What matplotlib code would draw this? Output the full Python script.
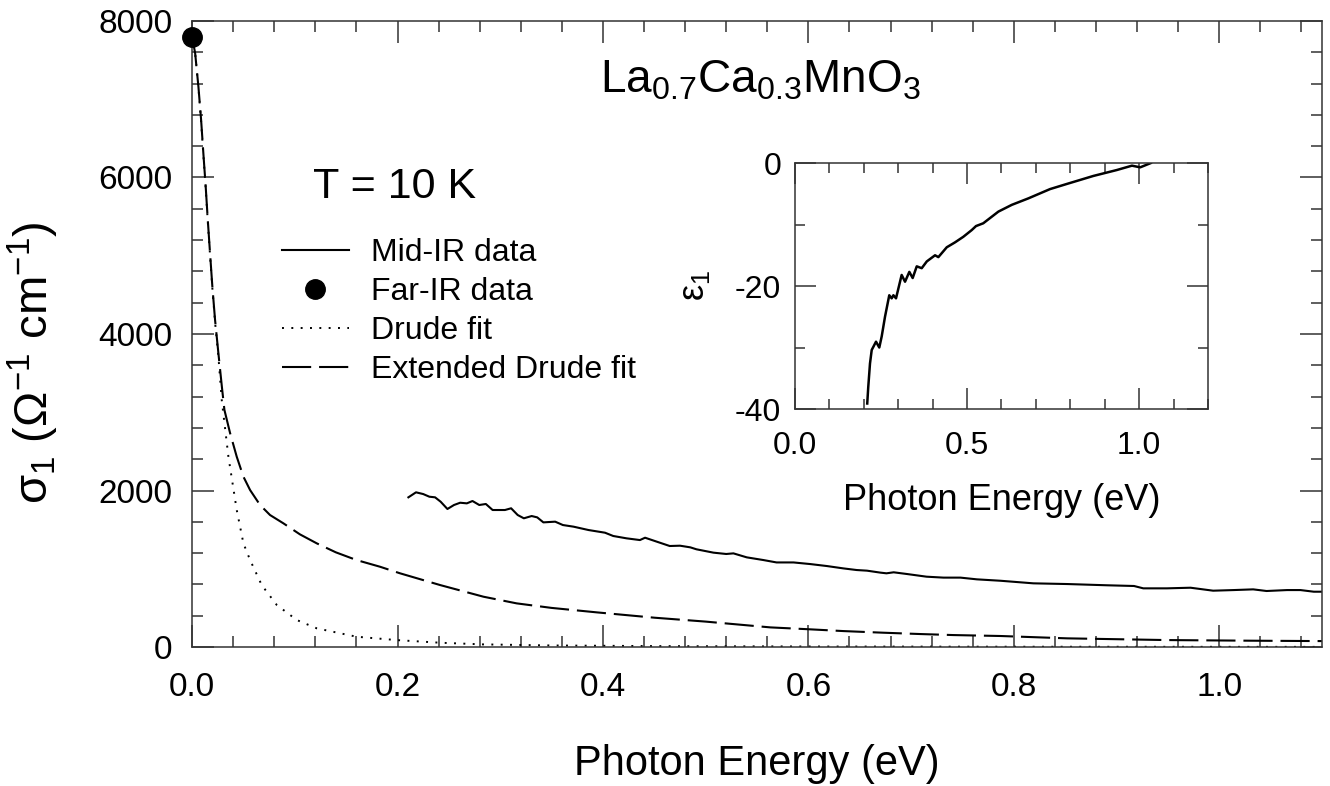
import matplotlib
matplotlib.use('Agg')
import matplotlib.pyplot as plt
from matplotlib.ticker import MultipleLocator

plt.rcParams['font.family'] = ['Liberation Sans', 'DejaVu Sans']
plt.rcParams['mathtext.fontset'] = 'custom'
plt.rcParams['mathtext.rm'] = 'Liberation Sans'
plt.rcParams['mathtext.it'] = 'Liberation Sans'
plt.rcParams['mathtext.sf'] = 'Liberation Sans'
plt.rcParams['axes.unicode_minus'] = False

# mid-IR optical conductivity
mid_x = [0.2106, 0.218, 0.225, 0.231, 0.2366, 0.242, 0.2486, 0.255, 0.261, 0.2675,
         0.273, 0.2796, 0.286, 0.2926, 0.3046, 0.3106, 0.317, 0.323, 0.3306, 0.336,
         0.342, 0.3535, 0.361, 0.3714, 0.386, 0.402, 0.410, 0.423, 0.436, 0.441,
         0.4525, 0.465, 0.475, 0.485, 0.491, 0.5076, 0.520, 0.527, 0.540, 0.556,
         0.569, 0.5855, 0.602, 0.618, 0.634, 0.647, 0.657, 0.670, 0.676, 0.683,
         0.696, 0.715, 0.7315, 0.748, 0.764, 0.787, 0.819, 0.852, 0.891, 0.917,
         0.926, 0.949, 0.972, 0.994, 1.014, 1.033, 1.046, 1.066, 1.079, 1.092, 1.10]
mid_y = [1913, 1977, 1955, 1921, 1913, 1857, 1764, 1815, 1844, 1836,
         1866, 1815, 1828, 1751, 1751, 1773, 1687, 1645, 1674, 1657,
         1593, 1602, 1559, 1538, 1495, 1461, 1419, 1389, 1367, 1397,
         1346, 1291, 1295, 1274, 1249, 1206, 1189, 1197, 1146, 1112,
         1081, 1081, 1060, 1035, 1005, 984, 976, 951, 942, 955,
         933, 899, 887, 887, 865, 847, 814, 805, 789, 780,
         750, 750, 758, 720, 728, 737, 716, 728, 728, 707, 707]

# far-IR point
far_x = [0.0]
far_y = [7800]

# Drude fit
drude_x = [0, 0.003, 0.0062, 0.0088, 0.011, 0.0133, 0.0153, 0.0175, 0.0198, 0.0224,
           0.0256, 0.0289, 0.0354, 0.0435, 0.050, 0.0565, 0.0678, 0.0825, 0.102, 0.1214,
           0.160, 0.199, 0.2415, 0.283, 0.35, 0.45, 0.6, 0.8, 1.1]
drude_y = [7800, 7590, 7150, 6720, 6290, 5860, 5440, 5010, 4580, 4150,
           3720, 3157, 2432, 1751, 1325, 1112, 792, 537, 345, 239,
           132, 89, 55, 34, 20, 12, 7, 4, 2]

# extended Drude fit
ext_x = [0, 0.003, 0.0062, 0.0088, 0.011, 0.0133, 0.0153, 0.0175, 0.0198, 0.0224,
         0.0256, 0.029, 0.0315, 0.037, 0.0435, 0.050, 0.0565, 0.0662, 0.0759, 0.0889,
         0.105, 0.1214, 0.14, 0.160, 0.183, 0.2025, 0.2415, 0.2837, 0.316, 0.35,
         0.394, 0.45, 0.5, 0.563, 0.602, 0.634, 0.673, 0.709, 0.741, 0.787,
         0.852, 0.949, 1.03, 1.1]
ext_y = [7800, 7590, 7160, 6740, 6310, 5880, 5460, 5035, 4600, 4180,
         3760, 3330, 3030, 2735, 2432, 2177, 2006, 1815, 1687, 1581,
         1440, 1325, 1210, 1112, 1026, 942, 792, 643, 558, 500,
         443, 375, 325, 251, 226, 204, 183, 166, 153, 141,
         111, 89, 81, 76]

# inset: epsilon_1
eps_x = [0.210, 0.213, 0.218, 0.223, 0.2355, 0.245, 0.252, 0.2616, 0.274, 0.281,
         0.286, 0.2936, 0.310, 0.3198, 0.3323, 0.342, 0.3538, 0.3683, 0.383, 0.407,
         0.4166, 0.441, 0.465, 0.489, 0.5136, 0.526, 0.547, 0.591, 0.630, 0.678,
         0.741, 0.790, 0.867, 0.935, 0.979, 1.003, 1.034]
eps_y = [-39.1, -36.4, -32.6, -30.4, -29.05, -30.0, -28.2, -25.0, -21.5, -22.0,
         -21.5, -22.0, -18.2, -19.3, -17.7, -18.7, -16.8, -17.1, -16.0, -15.0,
         -15.3, -13.7, -12.9, -12.0, -10.9, -10.25, -9.8, -7.9, -6.8, -5.75,
         -4.24, -3.4, -2.1, -1.14, -0.43, -0.7, 0.0]

fig = plt.figure(figsize=(13.3, 7.86), dpi=100)
ax = fig.add_axes([0.1444, 0.1768, 0.8496, 0.7965])

ax.plot(mid_x, mid_y, color='black', lw=1.5, label='Mid-IR data')
ax.plot(far_x, far_y, 'o', color='black', ms=14, clip_on=False, label='Far-IR data', zorder=5)
ax.plot(drude_x, drude_y, color='black', lw=1.4, dashes=(1, 3.8), label='Drude fit')
ax.plot(ext_x, ext_y, color='black', lw=1.5, dashes=(14, 3.8), label='Extended Drude fit')

ax.set_xlim(0, 1.1)
ax.set_ylim(0, 8000)
ax.xaxis.set_major_locator(MultipleLocator(0.2))
ax.xaxis.set_minor_locator(MultipleLocator(0.04))
ax.yaxis.set_major_locator(MultipleLocator(2000))
ax.yaxis.set_minor_locator(MultipleLocator(400))
ax.xaxis.set_major_formatter(plt.FuncFormatter(lambda v, p: '%.1f' % v))
ax.tick_params(which='both', direction='in', top=True, right=True, width=1.1, color='#333333')
ax.tick_params(which='major', length=16, labelsize=24)
ax.tick_params(which='minor', length=8)
ax.tick_params(axis='x', which='major', pad=18)
ax.tick_params(axis='y', which='major', pad=14)
for s in ax.spines.values():
    s.set_linewidth(1.1)
    s.set_color('#333333')

ax.set_xlabel('Photon Energy (eV)', fontsize=30)
ax.xaxis.set_label_coords(0.5, -0.155)
ax.set_ylabel(r'$\sigma_1$ ($\Omega^{-1}$ cm$^{-1}$)', fontsize=34)
ax.yaxis.set_label_coords(-0.116, 0.455)

ax.text(0.503, 0.905, r'La$_{0.7}$Ca$_{0.3}$MnO$_3$', transform=ax.transAxes,
        fontsize=33, ha='center', va='center')
ax.text(0.107, 0.735, 'T = 10 K', transform=ax.transAxes, fontsize=31, ha='left', va='center')

leg = ax.legend(loc='upper left', bbox_to_anchor=(0.068, 0.674), frameon=False,
                fontsize=23, handlelength=2.1, handletextpad=0.7, labelspacing=0.28,
                borderaxespad=0)

# inset
ins = fig.add_axes([0.5977, 0.4796, 0.3106, 0.313])
ins.plot(eps_x, eps_y, color='black', lw=1.8)
ins.set_xlim(0, 1.2)
ins.set_ylim(-40, 0)
ins.xaxis.set_major_locator(MultipleLocator(0.5))
ins.xaxis.set_minor_locator(MultipleLocator(0.1))
ins.yaxis.set_major_locator(MultipleLocator(20))
ins.yaxis.set_minor_locator(MultipleLocator(10))
ins.xaxis.set_major_formatter(plt.FuncFormatter(lambda v, p: '%.1f' % v))
ins.tick_params(which='both', direction='in', top=True, right=True, width=1.1, color='#333333')
ins.tick_params(which='major', length=15, labelsize=23)
ins.tick_params(which='minor', length=7.5)
ins.tick_params(axis='x', which='major', pad=16)
ins.tick_params(axis='y', which='major', pad=10)
for s in ins.spines.values():
    s.set_linewidth(1.1)
    s.set_color('#333333')
ins.set_xlabel('Photon Energy (eV)', fontsize=26)
ins.xaxis.set_label_coords(0.5, -0.30)
ins.set_ylabel(r'$ε_1$', fontsize=26)
ins.yaxis.set_label_coords(-0.2, 0.5)

fig.savefig('out.png', dpi=100)
